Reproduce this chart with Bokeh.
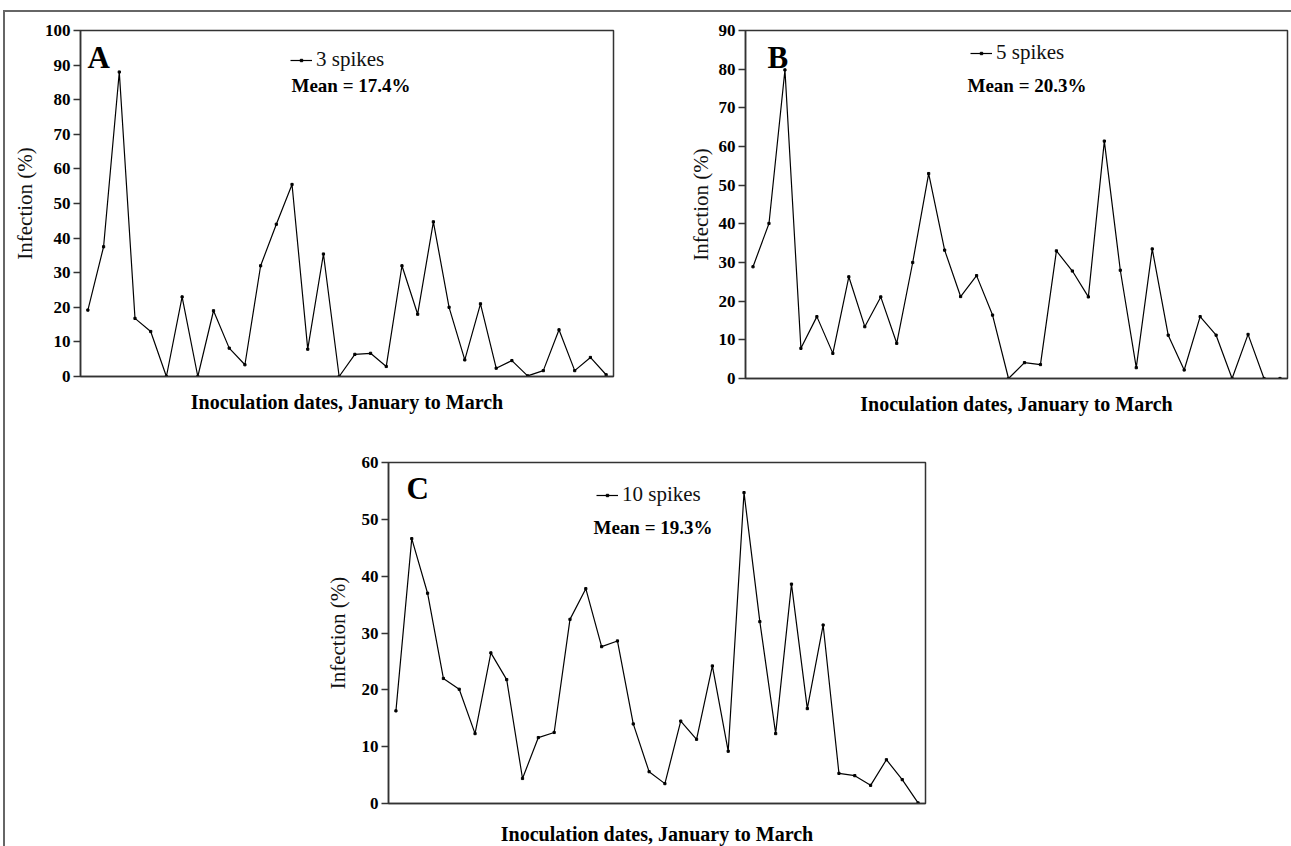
from bokeh.plotting import figure
from bokeh.models import Label, Legend, LegendItem, FixedTicker, Range1d, InlineStyleSheet
from bokeh.layouts import column, row
from bokeh.embed import file_html
from bokeh.resources import INLINE

# ---------------- data ----------------
dates = list(range(34))  # inoculation dates, January to March (index)

infection_3_spikes = [19.2, 37.5, 88.0, 16.8, 13.0, 0.0, 23.0, 0.0, 19.0, 8.2,
                      3.4, 32.0, 44.0, 55.5, 7.9, 35.4, 0.0, 6.4, 6.7, 2.9,
                      32.0, 18.0, 44.7, 20.0, 4.8, 21.0, 2.4, 4.6, 0.2, 1.7,
                      13.5, 1.7, 5.5, 0.5]
infection_5_spikes = [28.9, 40.1, 79.8, 7.8, 16.0, 6.5, 26.3, 13.4, 21.1, 9.1,
                      30.0, 53.0, 33.2, 21.2, 26.6, 16.4, 0.0, 4.1, 3.6, 33.0,
                      27.8, 21.1, 61.4, 28.0, 2.8, 33.5, 11.2, 2.2, 16.0, 11.2,
                      0.0, 11.4, 0.0, 0.0]
infection_10_spikes = [16.3, 46.6, 37.0, 22.0, 20.1, 12.3, 26.5, 21.8, 4.4, 11.6,
                       12.5, 32.4, 37.8, 27.6, 28.6, 14.0, 5.6, 3.5, 14.5, 11.3,
                       24.2, 9.2, 54.7, 32.0, 12.3, 38.6, 16.7, 31.4, 5.3, 4.9,
                       3.2, 7.7, 4.2, 0.1]

series_labels = ["3 spikes", "5 spikes", "10 spikes"]
mean_labels = ["Mean = 17.4%", "Mean = 20.3%", "Mean = 19.3%"]
panel_letters = ["A", "B", "C"]
y_max = [100, 90, 60]
y_tick_step = 10
x_title = "Inoculation dates, January to March"
y_title = "Infection (%)"

SERIF = "Liberation Serif"
AXIS_COL = "#333333"


def make_panel(letter, values, label, mean, ymax, frame_w, frame_h,
               borders, letter_pos, mean_pos, legend_pos, ytitle_standoff,
               xtitle_standoff):
    bl, br, bt, bb = borders
    p = figure(frame_width=frame_w, frame_height=frame_h,
               min_border_left=bl, min_border_right=br,
               min_border_top=bt, min_border_bottom=bb,
               x_range=Range1d(-0.47, len(values) - 1 + 0.47),
               y_range=Range1d(0, ymax),
               output_backend="svg", toolbar_location=None,
               background_fill_color="white", border_fill_color="white")
    p.xgrid.visible = False
    p.ygrid.visible = False
    p.outline_line_color = AXIS_COL
    p.outline_line_width = 1.5

    # y axis
    ya = p.yaxis[0]
    ya.ticker = FixedTicker(ticks=list(range(0, ymax + 1, y_tick_step)))
    ya.major_tick_out = 7
    ya.major_tick_in = 0
    ya.minor_tick_out = 0
    ya.minor_tick_in = 0
    ya.major_label_standoff = 3
    ya.major_label_text_font = SERIF
    ya.major_label_text_font_style = "bold"
    ya.major_label_text_font_size = "17px"
    ya.major_label_text_color = "black"
    ya.axis_line_color = AXIS_COL
    ya.axis_line_width = 1.5
    ya.major_tick_line_color = AXIS_COL
    ya.major_tick_line_width = 1.5
    ya.axis_label = y_title
    ya.axis_label_text_font = SERIF
    ya.axis_label_text_font_style = "normal"
    ya.axis_label_text_font_size = "21px"
    ya.axis_label_text_color = "#111111"
    ya.axis_label_standoff = ytitle_standoff

    # x axis (no ticks)
    xa = p.xaxis[0]
    xa.ticker = FixedTicker(ticks=[])
    xa.major_tick_line_color = None
    xa.minor_tick_line_color = None
    xa.axis_line_color = AXIS_COL
    xa.axis_line_width = 1.5
    xa.axis_label = x_title
    xa.axis_label_text_font = SERIF
    xa.axis_label_text_font_style = "bold"
    xa.axis_label_text_font_size = "20px"
    xa.axis_label_text_color = "black"
    xa.axis_label_standoff = xtitle_standoff

    ln = p.line(dates, values, line_color="black", line_width=1.2)
    sc = p.scatter(dates, values, marker="square", size=2.2,
                   line_color="black", fill_color="black")

    legend = Legend(items=[LegendItem(label=label, renderers=[ln, sc])],
                    location=legend_pos, border_line_color=None,
                    background_fill_alpha=0, padding=0, margin=0, spacing=0,
                    label_text_font=SERIF, label_text_font_size="21px",
                    label_text_color="#111111",
                    glyph_width=22, glyph_height=6, label_standoff=4)
    p.add_layout(legend)

    p.add_layout(Label(x=letter_pos[0], y=letter_pos[1], x_units="screen",
                       y_units="screen", text=letter, text_font=SERIF,
                       text_font_style="bold", text_font_size="31px",
                       text_color="black", text_baseline="alphabetic"))
    p.add_layout(Label(x=mean_pos[0], y=mean_pos[1], x_units="screen",
                       y_units="screen", text=mean, text_font=SERIF,
                       text_font_style="bold", text_font_size="19px",
                       text_color="black", text_baseline="alphabetic"))
    return p


pA = make_panel(panel_letters[0], infection_3_spikes, series_labels[0],
                mean_labels[0], y_max[0], 533, 346, (80, 27, 30, 44),
                (7, 319), (211, 291), (210, 304), 5, 14)
pB = make_panel(panel_letters[1], infection_5_spikes, series_labels[1],
                mean_labels[1], y_max[1], 542, 348, (105, 4, 29, 43),
                (22, 321), (222, 293), (225, 313), 3, 14)
pC = make_panel(panel_letters[2], infection_10_spikes, series_labels[2],
                mean_labels[2], y_max[2], 537, 341, (388, 366, 42, 43),
                (18, 315), (205, 276), (208, 296), 9, 19)

frame_css = InlineStyleSheet(css="""
:host { position: relative; }
:host::after {
  content: '';
  position: absolute;
  left: 3px; top: 10px; right: 0; bottom: 0;
  border-left: 2px solid #666666;
  border-top: 2px solid #666666;
  pointer-events: none;
  z-index: 10;
}
""")

layout = column(row(pA, pB), pC, stylesheets=[frame_css])
open("out.html", "w").write(file_html(layout, INLINE))
